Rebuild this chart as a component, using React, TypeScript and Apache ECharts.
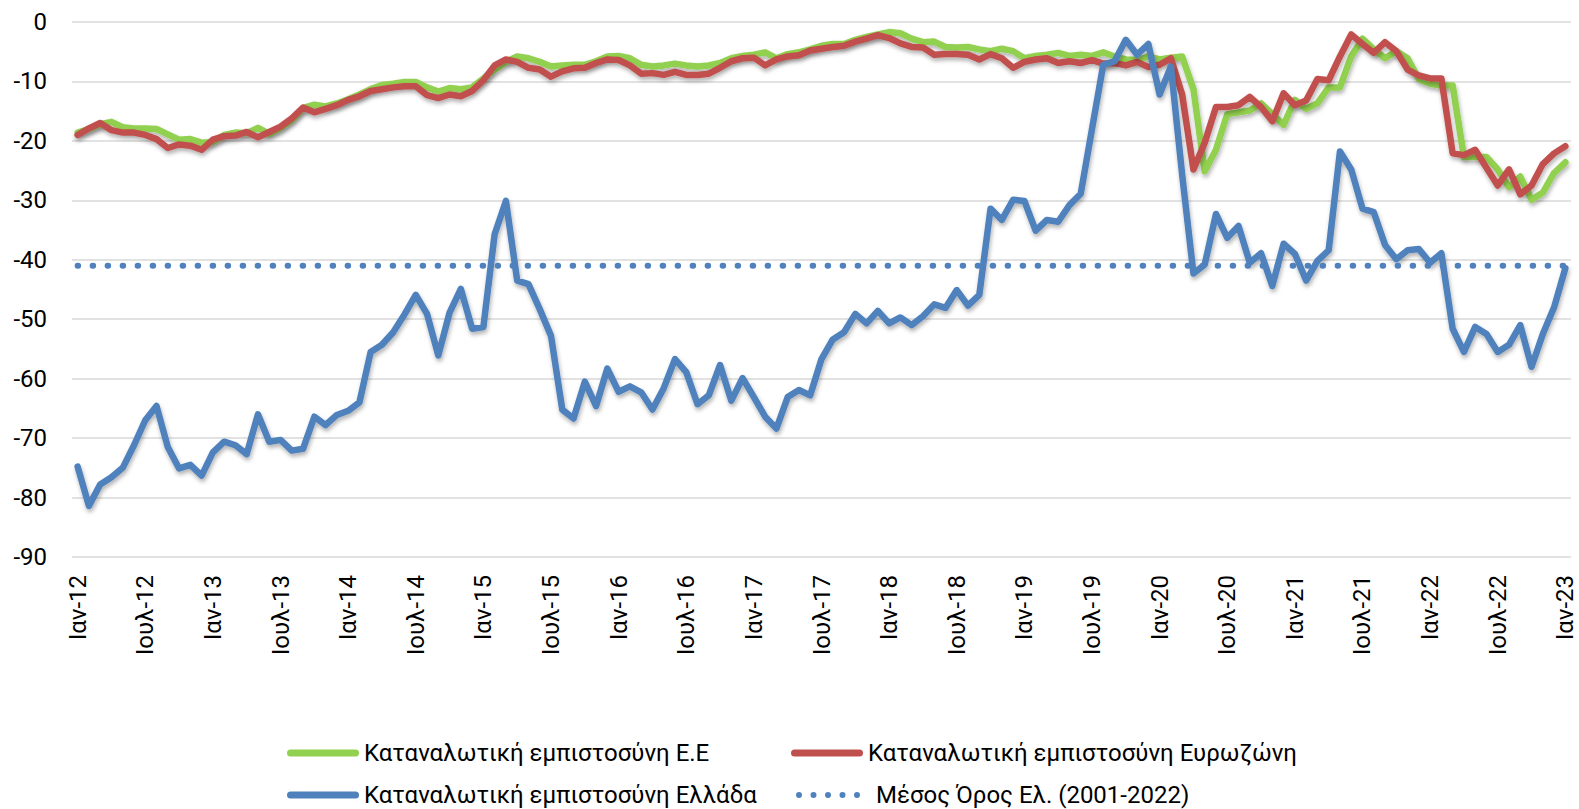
import React, { useEffect, useRef } from "react";
import * as echarts from "echarts";

const monthNames = ["Ιαν", "Φεβ", "Μαρ", "Απρ", "Μαΐ", "Ιουν", "Ιουλ", "Αυγ", "Σεπ", "Οκτ", "Νοε", "Δεκ"];
const yearLabels = ["12", "13", "14", "15", "16", "17", "18", "19", "20", "21", "22", "23"];

const categories: string[] = [];
yearLabels.forEach((y, yi) => {
  monthNames.forEach((m, mi) => {
    if (yi === yearLabels.length - 1 && mi > 0) return;
    categories.push(`${m}-${y}`);
  });
});

const euValues = [
  -18.6, -18.0, -17.2, -16.8, -17.7, -17.9, -17.9, -18.0, -18.9, -19.8, -19.7, -20.3,
  -20.2, -19.0, -18.6, -18.7, -17.8, -18.8, -17.8, -16.5, -14.5, -13.9, -14.2, -13.7,
  -13.0, -12.2, -11.3, -10.6, -10.4, -10.1, -10.1, -11.0, -11.7, -11.1, -11.3, -11.0,
  -9.5, -8.0, -6.7, -5.8, -6.1, -6.7, -7.5, -7.3, -7.2, -7.2, -6.6, -5.8,
  -5.7, -6.1, -7.2, -7.5, -7.3, -7.0, -7.3, -7.5, -7.3, -6.9, -6.1, -5.7,
  -5.5, -5.1, -6.1, -5.4, -5.1, -4.6, -4.0, -3.7, -3.7, -3.0, -2.5, -2.1,
  -1.7, -1.9, -2.8, -3.4, -3.3, -4.2, -4.3, -4.2, -4.6, -4.9, -4.5, -4.9,
  -6.1, -5.7, -5.5, -5.2, -5.7, -5.5, -5.7, -5.1, -5.8, -6.3, -6.4, -5.8,
  -6.3, -6.0, -5.8, -11.3, -25.1, -21.5, -15.5, -15.2, -14.9, -13.7, -15.5, -17.3,
  -13.1, -14.6, -13.7, -11.0, -11.0, -5.8, -2.8, -4.6, -6.1, -4.9, -6.1, -9.6,
  -10.4, -10.7, -10.7, -22.7, -22.7, -22.7, -24.8, -27.8, -26.0, -29.9, -28.7, -25.4,
  -23.6,
];

const euroAreaValues = [
  -19.0, -17.9, -17.0, -18.2, -18.6, -18.6, -19.0, -19.7, -21.2, -20.6, -20.8, -21.5,
  -19.8, -19.2, -19.1, -18.5, -19.4, -18.5, -17.6, -16.2, -14.4, -15.2, -14.6, -14.0,
  -13.1, -12.5, -11.6, -11.3, -11.0, -10.8, -10.8, -12.3, -12.8, -12.2, -12.5, -11.6,
  -9.8, -7.3, -6.3, -6.7, -7.7, -8.0, -9.2, -8.3, -7.8, -7.7, -6.9, -6.3,
  -6.4, -7.3, -8.7, -8.6, -8.9, -8.4, -8.9, -8.9, -8.7, -7.7, -6.6, -6.1,
  -6.0, -7.3, -6.3, -5.8, -5.6, -4.8, -4.5, -4.2, -4.0, -3.3, -2.8, -2.2,
  -2.7, -3.6, -4.2, -4.3, -5.5, -5.4, -5.4, -5.5, -6.3, -5.4, -6.1, -7.7,
  -6.7, -6.3, -6.1, -6.9, -6.6, -6.9, -6.4, -7.0, -6.9, -7.3, -6.7, -7.6,
  -7.2, -6.1, -12.2, -24.8, -20.3, -14.3, -14.3, -14.0, -12.6, -14.3, -16.7, -12.0,
  -14.0, -13.2, -9.6, -9.8, -5.8, -2.1, -3.7, -5.2, -3.4, -4.9, -8.0, -9.0,
  -9.5, -9.5, -22.1, -22.4, -21.5, -24.5, -27.5, -24.8, -29.0, -27.5, -23.9, -22.1,
  -20.9,
];

const greeceValues = [
  -74.8, -81.4, -77.8, -76.6, -75.0, -71.2, -67.0, -64.6, -71.5, -75.1, -74.5, -76.3,
  -72.4, -70.6, -71.2, -72.7, -66.0, -70.6, -70.3, -72.1, -71.8, -66.4, -67.8, -66.1,
  -65.4, -64.0, -55.5, -54.3, -52.2, -49.2, -45.9, -49.1, -56.1, -48.9, -44.9, -51.6,
  -51.3, -35.7, -30.1, -43.5, -44.1, -48.3, -52.8, -65.2, -66.7, -60.5, -64.6, -58.3,
  -62.2, -61.3, -62.3, -65.2, -61.6, -56.7, -58.9, -64.3, -62.8, -57.7, -63.7, -59.9,
  -63.1, -66.4, -68.4, -63.1, -61.9, -62.8, -56.7, -53.4, -52.2, -49.1, -50.7, -48.6,
  -50.7, -49.7, -51.0, -49.5, -47.5, -48.1, -45.1, -47.7, -45.9, -31.4, -33.3, -29.9,
  -30.1, -35.1, -33.3, -33.6, -30.8, -28.9, -18.0, -7.2, -6.6, -3.0, -5.5, -3.7,
  -12.2, -7.5, -25.7, -42.3, -40.8, -32.3, -36.3, -34.3, -40.5, -38.9, -44.4, -37.3,
  -39.0, -43.5, -40.2, -38.4, -21.8, -24.8, -31.4, -32.0, -37.5, -39.9, -38.4, -38.2,
  -40.5, -38.9, -51.6, -55.5, -51.3, -52.5, -55.5, -54.3, -51.0, -58.0, -52.5, -48.0,
  -41.4,
];

const greeceAverage = -41.0;
const averageValues = categories.map(() => greeceAverage);

const seriesNames = [
  "Καταναλωτική εμπιστοσύνη Ε.Ε",
  "Καταναλωτική εμπιστοσύνη Ευρωζώνη",
  "Καταναλωτική εμπιστοσύνη Ελλάδα",
  "Μέσος Όρος Ελ. (2001-2022)",
];

const FONT = "Roboto, 'Noto Sans', sans-serif";

const CAPSULE_ICON =
  "path://M3.5,0 L68.5,0 A3.5,3.5 0 0 1 68.5,7 L3.5,7 A3.5,3.5 0 0 1 3.5,0 Z";
const DOTS_ICON =
  "path://" +
  [3, 17.5, 32, 46.5, 61]
    .map((c) => `M${c - 3},3 A3,3 0 1 0 ${c + 3},3 A3,3 0 1 0 ${c - 3},3 Z`)
    .join(" ");

export default function App() {
  const ref = useRef<HTMLDivElement>(null);

  useEffect(() => {
    if (!ref.current) return;
    const chart = echarts.init(ref.current, undefined, { renderer: "svg" });
    const shadow = {
      shadowColor: "rgba(0,0,0,0.3)",
      shadowBlur: 4,
      shadowOffsetX: 1,
      shadowOffsetY: 3,
    };
    const legendText = { fontSize: 24, fontFamily: FONT, color: "#000", lineHeight: 26 };
    const legendBase = {
      itemHeight: 7,
      itemWidth: 72,
      icon: CAPSULE_ICON,
      itemStyle: { borderWidth: 0 },
      textStyle: legendText,
    };
    chart.setOption({
      animation: false,
      backgroundColor: "#fff",
      grid: { left: 72, right: 8, top: 22, bottom: 252, containLabel: false },
      xAxis: {
        type: "category",
        data: categories,
        boundaryGap: true,
        axisLine: { show: false },
        axisTick: { show: false },
        splitLine: { show: false },
        axisLabel: {
          interval: 5,
          rotate: 90,
          margin: 18,
          fontSize: 24,
          lineHeight: 24,
          fontFamily: FONT,
          color: "#000",
        },
      },
      yAxis: {
        type: "value",
        min: -90,
        max: 0,
        interval: 10,
        axisLine: { show: false },
        axisTick: { show: false },
        axisLabel: { fontSize: 24, fontFamily: FONT, color: "#000", margin: 25 },
        splitLine: { lineStyle: { color: "#d9d9d9", width: 1.5 } },
      },
      legend: [
        { ...legendBase, data: [seriesNames[0]], left: 282, top: 735 },
        { ...legendBase, data: [seriesNames[1]], left: 786, top: 735 },
        { ...legendBase, data: [seriesNames[2]], left: 282, top: 777 },
        {
          ...legendBase,
          data: [seriesNames[3]],
          left: 791,
          top: 777,
          itemWidth: 64,
          itemHeight: 6,
          icon: DOTS_ICON,
          textStyle: { ...legendText, padding: [0, 0, 0, 11] },
        },
      ],
      series: [
        {
          name: seriesNames[0],
          type: "line",
          data: euValues,
          showSymbol: false,
          symbol: "none",
          lineStyle: { color: "#92D050", width: 6.5, join: "round", cap: "round", ...shadow },
          itemStyle: { color: "#92D050" },
        },
        {
          name: seriesNames[1],
          type: "line",
          data: euroAreaValues,
          showSymbol: false,
          symbol: "none",
          lineStyle: { color: "#C0504D", width: 6.5, join: "round", cap: "round", ...shadow },
          itemStyle: { color: "#C0504D" },
        },
        {
          name: seriesNames[2],
          type: "line",
          data: greeceValues,
          showSymbol: false,
          symbol: "none",
          lineStyle: { color: "#4F81BD", width: 6.5, join: "round", cap: "round", ...shadow },
          itemStyle: { color: "#4F81BD" },
        },
        {
          name: seriesNames[3],
          type: "line",
          data: averageValues,
          showSymbol: false,
          symbol: "none",
          lineStyle: {
            color: "#4F81BD",
            width: 6,
            type: [0.5, 14.5],
            cap: "round",
          },
          itemStyle: { color: "#4F81BD" },
        },
      ],
    });
    return () => chart.dispose();
  }, []);

  return (
    <div
      ref={ref}
      style={{ position: "fixed", left: 0, top: 0, width: 1579, height: 809 }}
    />
  );
}
